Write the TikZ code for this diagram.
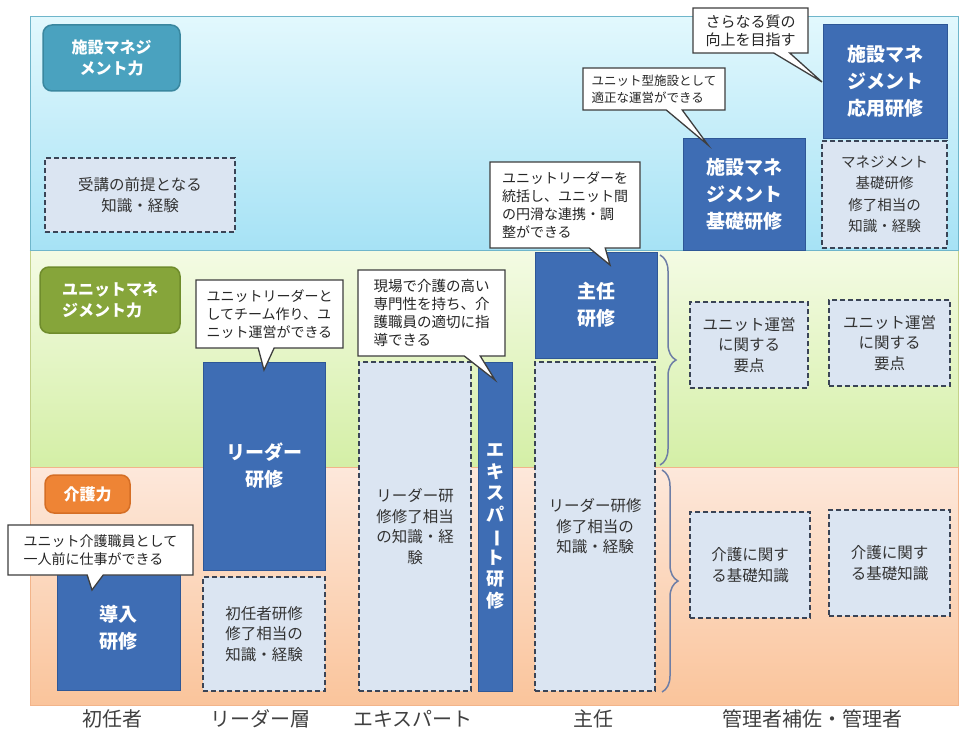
\documentclass[tikz,border=0pt]{standalone}
\usepackage{fontspec}
\setmainfont{Noto Sans CJK JP}
\usetikzlibrary{shapes.callouts,decorations.pathreplacing}
\definecolor{blueT}{HTML}{E2F8FD}
\definecolor{blueB}{HTML}{A6E2F5}
\definecolor{blueEdge}{HTML}{6FB6CB}
\definecolor{greenT}{HTML}{F4FBE4}
\definecolor{greenB}{HTML}{D4EFA6}
\definecolor{greenEdge}{HTML}{C3D28A}
\definecolor{orangeT}{HTML}{FDE8DB}
\definecolor{orangeB}{HTML}{FAC49B}
\definecolor{orangeEdge}{HTML}{F2B48A}
\definecolor{trainblue}{HTML}{3E6DB4}
\definecolor{trainedge}{HTML}{2E5796}
\definecolor{prefill}{HTML}{DBE5F2}
\definecolor{predash}{HTML}{3A4456}
\definecolor{tealcat}{HTML}{4AA2BF}
\definecolor{tealedge}{HTML}{3A879F}
\definecolor{greencat}{HTML}{86A53A}
\definecolor{greenedge}{HTML}{6F8C2C}
\definecolor{orangecat}{HTML}{EE8435}
\definecolor{orangeedge}{HTML}{D56E25}
\definecolor{bracecol}{HTML}{6E7EA6}
\definecolor{calloutedge}{HTML}{3E3E3E}
\begin{document}
\begin{tikzpicture}[x=1pt,y=-1pt,
  band/.style={draw=#1, line width=1pt, inner sep=0pt},
  catlabel/.style={rounded corners=9pt, line width=1.5pt, text=white, font=\bfseries\fontsize{16}{21}\selectfont, inner sep=0pt},
  train/.style={draw=trainedge, fill=trainblue, line width=1pt, text=white, font=\bfseries\fontsize{19}{27}\selectfont, align=center, inner sep=0pt},
  prereq/.style={draw=predash, fill=prefill, line width=2pt, dash pattern=on 5pt off 3pt, text=black!80, font=\fontsize{15.5}{20.5}\selectfont, align=center, inner sep=0pt},
  callbox/.style={rectangle callout, draw=calloutedge, fill=white, line width=1.3pt, text=black!85, font=\fontsize{14}{18}\selectfont, align=left, inner sep=2pt, callout pointer width=16pt},
  levellabel/.style={font=\fontsize{20}{24}\selectfont, text=black!75},
  bracestyle/.style={draw=bracecol, line width=1.5pt, decorate, decoration={brace, amplitude=16pt}}
]
\useasboundingbox (0,0) rectangle (963,733);

% bands
\node[band=blueEdge, top color=blueT, bottom color=blueB, minimum width=928pt, minimum height=233pt] (bandA) at (494,133.5) {};
\node[band=greenEdge, top color=greenT, bottom color=greenB, minimum width=928pt, minimum height=217pt] (bandB) at (494,358.5) {};
\node[band=orangeEdge, top color=orangeT, bottom color=orangeB, minimum width=928pt, minimum height=238pt] (bandC) at (494,586) {};
\draw[blueEdge, line width=1.5pt] (bandA.south west) -- (bandA.south east);

% category labels
\node[catlabel, fill=tealcat, draw=tealedge, minimum width=137pt, minimum height=66pt, align=center] (catA) at (111.5,58) {施設マネジ\\メント力};
\node[catlabel, fill=greencat, draw=greenedge, minimum width=140pt, minimum height=66pt, align=left] (catB) at (110,300) {ユニットマネ\\ジメント力};
\node[catlabel, fill=orangecat, draw=orangeedge, minimum width=85pt, minimum height=38pt] (catC) at (87.5,494) {介護力};

% prerequisite (top band)
\node[prereq, minimum width=190pt, minimum height=74pt] (pre0) at (140,195) {受講の前提となる\\知識・経験};

% column 1
\node[train, minimum width=123pt, minimum height=124pt] (t1) at (118.5,628) {導入\\研修};

% column 2
\node[train, minimum width=122pt, minimum height=208pt] (t2) at (264,466) {リーダー\\研修};
\node[prereq, minimum width=122pt, minimum height=114pt] (p2) at (264,634) {初任者研修\\修了相当の\\知識・経験};

% column 3
\node[prereq, minimum width=112pt, minimum height=329pt] (p3) at (415,526.5) {リーダー研\\修修了相当\\の知識・経\\験};
\node[train, minimum width=34pt, minimum height=329pt, font=\bfseries\fontsize{18}{21.5}\selectfont] (t3) at (495,526.5) {エ\\キ\\ス\\パ\\\rotatebox[origin=c]{-90}{ー}\\ト\\研\\修};

% column 4
\node[train, minimum width=122pt, minimum height=106pt] (t4) at (596,305) {主任\\研修};
\node[prereq, minimum width=120pt, minimum height=329pt] (p4) at (595,526.5) {リーダー研修\\修了相当の\\知識・経験};

% column 5
\node[train, minimum width=122pt, minimum height=112pt] (t5) at (744,194) {施設マネ\\ジメント\\基礎研修};
\node[train, minimum width=124pt, minimum height=113pt] (t6) at (885,81.5) {施設マネ\\ジメント\\応用研修};
\node[prereq, minimum width=125pt, minimum height=107pt, font=\fontsize{14.5}{21.5}\selectfont] (p6) at (884.5,194.5) {マネジメント\\基礎研修\\修了相当の\\知識・経験};
\node[prereq, minimum width=118pt, minimum height=86pt] (p7) at (749,345) {ユニット運営\\に関する\\要点};
\node[prereq, minimum width=121pt, minimum height=86pt] (p8) at (889.5,343) {ユニット運営\\に関する\\要点};
\node[prereq, minimum width=120pt, minimum height=106pt] (p9) at (750,565) {介護に関す\\る基礎知識};
\node[prereq, minimum width=121pt, minimum height=106pt] (p10) at (889.5,563) {介護に関す\\る基礎知識};

% braces
\coordinate (b1s) at (660,255);
\coordinate (b1e) at (660,465);
\coordinate (b2s) at (662,470);
\coordinate (b2e) at (662,692);
\draw[bracestyle] (b1s) -- (b1e);
\draw[bracestyle] (b2s) -- (b2e);

% callout pointers
\coordinate (q1) at (92,590);
\coordinate (q2) at (264,370);
\coordinate (q3) at (495,380);
\coordinate (q4) at (610,265);
\coordinate (q5) at (708,145);
\coordinate (q6) at (822,82);

% callouts
\node[callbox, minimum width=185pt, minimum height=50pt, callout absolute pointer=(q1)] (c1) at (100.5,550) {ユニット介護職員として\\一人前に仕事ができる};
\node[callbox, minimum width=147pt, minimum height=68pt, callout absolute pointer=(q2)] (c2) at (269.5,314) {ユニットリーダーと\\してチーム作り、ユ\\ニット運営ができる};
\node[callbox, minimum width=147pt, minimum height=86pt, font=\fontsize{14.5}{18}\selectfont, callout absolute pointer=(q3)] (c3) at (431.5,313) {現場で介護の高い\\専門性を持ち、介\\護職員の適切に指\\導できる};
\node[callbox, minimum width=150pt, minimum height=86pt, callout absolute pointer=(q4)] (c4) at (565,205) {ユニットリーダーを\\統括し、ユニット間\\の円滑な連携・調\\整ができる};
\node[callbox, minimum width=142pt, minimum height=42pt, font=\fontsize{12.5}{17}\selectfont, callout absolute pointer=(q5)] (c5) at (654,89) {ユニット型施設として\\適正な運営ができる};
\node[callbox, minimum width=115pt, minimum height=45pt, font=\fontsize{15}{18}\selectfont, callout absolute pointer=(q6)] (c6) at (750.5,30.5) {さらなる質の\\向上を目指す};

% level labels
\node[levellabel] (l1) at (112,719) {初任者};
\node[levellabel] (l2) at (260,719) {リーダー層};
\node[levellabel] (l3) at (413,719) {エキスパート};
\node[levellabel] (l4) at (593,719) {主任};
\node[levellabel] (l5) at (812,719) {管理者補佐・管理者};
\end{tikzpicture}
\end{document}
